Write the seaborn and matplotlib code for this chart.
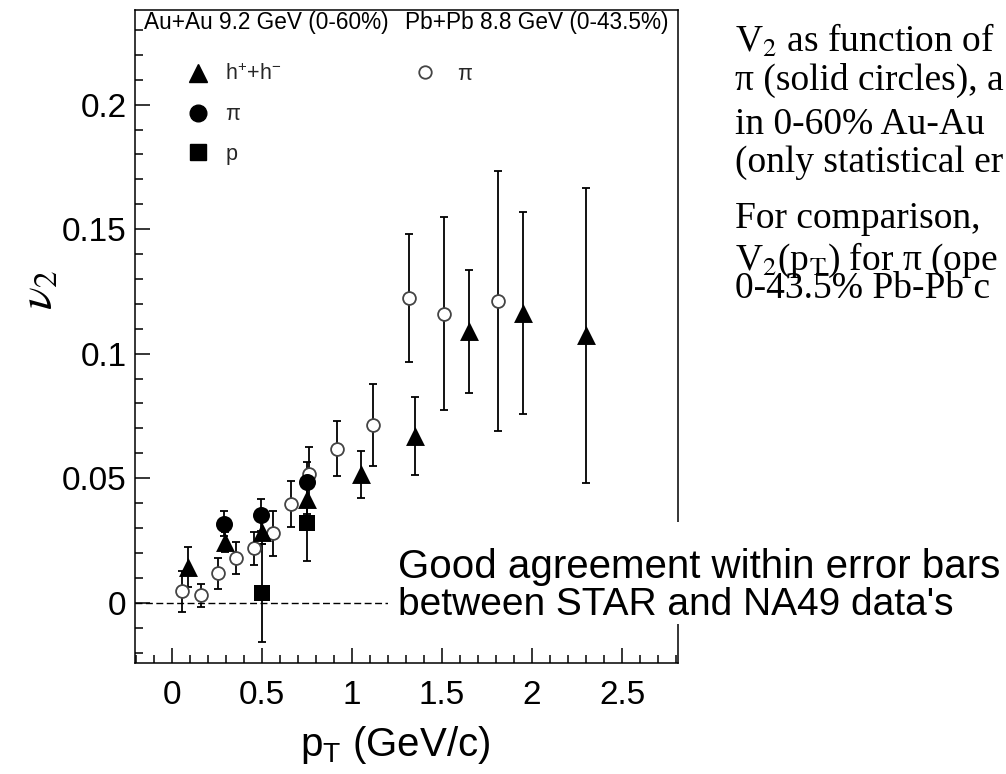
import numpy as np
import pandas as pd
import matplotlib
matplotlib.use("Agg")
import matplotlib.pyplot as plt
import seaborn as sns
from matplotlib.lines import Line2D
from matplotlib.patches import Rectangle
from matplotlib.ticker import MultipleLocator, FuncFormatter

# ---------------- data ----------------
# STAR Au+Au 9.2 GeV (0-60%) : charged hadrons h+ + h-
pt_h = [0.09, 0.295, 0.50, 0.75, 1.05, 1.35, 1.65, 1.95, 2.30]
v2_h = [0.0145, 0.0243, 0.0285, 0.0415, 0.0515, 0.0668, 0.1090, 0.1163, 0.1074]
err_h = [0.0080, 0.0040, 0.0050, 0.0060, 0.0095, 0.0157, 0.0248, 0.0405, 0.0592]

# STAR pions (solid circles)
pt_pi = [0.29, 0.495, 0.75]
v2_pi = [0.0318, 0.0352, 0.0485]
err_pi = [0.0052, 0.0065, 0.0082]

# STAR protons (solid squares)
pt_p = [0.50, 0.75]
v2_p = [0.0039, 0.0320]
err_p = [0.0195, 0.0152]

# NA49 Pb+Pb 8.8 GeV (0-43.5%) pions (open circles)
pt_na = [0.058, 0.160, 0.258, 0.357, 0.455, 0.560, 0.662, 0.760, 0.915, 1.115, 1.318, 1.508, 1.812]
v2_na = [0.0046, 0.0030, 0.0119, 0.0180, 0.0218, 0.0278, 0.0396, 0.0515, 0.0618, 0.0713, 0.1222, 0.1160, 0.1212]
err_na = [0.0082, 0.0046, 0.0062, 0.0063, 0.0068, 0.0090, 0.0093, 0.0110, 0.0110, 0.0165, 0.0257, 0.0388, 0.0521]

x_ticks = [0, 0.5, 1, 1.5, 2, 2.5]
y_ticks = [0, 0.05, 0.1, 0.15, 0.2]

header_star = "Au+Au 9.2 GeV (0-60%)"
header_na49 = "Pb+Pb 8.8 GeV (0-43.5%)"
lab_h = r"h$^{+}$+h$^{-}$"
lab_pi = "π"
lab_p = "p"

# the description on the right is cut by the picture's edge in the reference
side_lines = [
    r"V$_2$ as function of",
    "π (solid circles), a",
    "in 0-60% Au-Au",
    "(only statistical er",
    "For comparison,",
    r"V$_2$(p$_\mathrm{T}$) for π (ope",
    "0-43.5% Pb-Pb c",
]
note_lines = ["Good agreement within error bars", "between STAR and NA49 data's"]

# ---------------- style ----------------
sns.set_theme(style="white")
plt.rcParams['font.family'] = ['Liberation Sans', 'DejaVu Sans']
plt.rcParams['mathtext.fontset'] = 'custom'
plt.rcParams['mathtext.rm'] = 'Liberation Sans'
plt.rcParams['mathtext.it'] = 'Liberation Sans:italic'
plt.rcParams['mathtext.bf'] = 'Liberation Sans:bold'

W, H = 1006, 774
fig = plt.figure(figsize=(W / 100, H / 100), dpi=100)
fig.patch.set_facecolor('white')
L, R, T, B = 135, 678, 10, 663
ax = fig.add_axes([L / W, 1 - B / H, (R - L) / W, (B - T) / H])
ax.set_facecolor('white')

df_h = pd.DataFrame({"pt": pt_h, "v2": v2_h})
df_pi = pd.DataFrame({"pt": pt_pi, "v2": v2_pi})
df_p = pd.DataFrame({"pt": pt_p, "v2": v2_p})
df_na = pd.DataFrame({"pt": pt_na, "v2": v2_na})

# reference line at zero
ax.axhline(0, color='black', lw=1.0, ls=(0, (5, 2.5)), zorder=1)

ekw = dict(fmt='none', ecolor='black', elinewidth=1.3, capsize=2.6, capthick=1.3, zorder=2)
ax.errorbar(pt_na, v2_na, yerr=err_na, **ekw)
ax.errorbar(pt_h, v2_h, yerr=err_h, **ekw)
ax.errorbar(pt_pi, v2_pi, yerr=err_pi, **ekw)
ax.errorbar(pt_p, v2_p, yerr=err_p, **ekw)

sns.scatterplot(data=df_na, x="pt", y="v2", marker='o', s=85, facecolor='white',
                edgecolor='#444444', linewidth=1.3, ax=ax, zorder=3, legend=False)
sns.scatterplot(data=df_h, x="pt", y="v2", marker='^', s=185, color='black',
                edgecolor='black', linewidth=0, ax=ax, zorder=4, legend=False)
sns.scatterplot(data=df_pi, x="pt", y="v2", marker='o', s=150, color='black',
                edgecolor='black', linewidth=0, ax=ax, zorder=4, legend=False)
sns.scatterplot(data=df_p, x="pt", y="v2", marker='s', s=120, color='black',
                edgecolor='black', linewidth=0, ax=ax, zorder=4, legend=False)

# axes
ax.set_xlim(-0.205, 2.81)
ax.set_ylim(-0.0242, 0.238)
ax.set_xticks(x_ticks)
ax.set_yticks(y_ticks)
ax.xaxis.set_minor_locator(MultipleLocator(0.1))
ax.yaxis.set_minor_locator(MultipleLocator(0.01))
fmt = FuncFormatter(lambda v, p: "%g" % v)
ax.xaxis.set_major_formatter(fmt)
ax.yaxis.set_major_formatter(fmt)
ax.tick_params(which='both', direction='in', top=False, right=False,
               left=True, bottom=True, width=1.1, color='black')
ax.tick_params(which='major', length=11, labelsize=24, labelcolor='black')
ax.tick_params(axis='y', which='major', pad=6)
ax.tick_params(axis='x', which='major', pad=12)
ax.tick_params(which='minor', length=6)
for s in ax.spines.values():
    s.set_visible(True)
    s.set_color('black')
    s.set_linewidth(1.1)
ax.grid(False)

ax.set_xlabel(r"p$_\mathrm{T}$ (GeV/c)", fontsize=29, color='black', va='center')
ax.xaxis.set_label_coords((395 - L) / (R - L), (B - 745) / (B - T))
ax.set_ylabel(r"$\nu_2$", fontsize=34, color='black', math_fontfamily='stix',
              va='center', rotation=90)
ax.yaxis.set_label_coords((40 - L) / (R - L), (B - 290) / (B - T))

# headers and legends
ax.text((144 - L) / (R - L), (B - 23) / (B - T), header_star, transform=ax.transAxes,
        fontsize=16.3, ha='left', va='center', color='black')
ax.text((405 - L) / (R - L), (B - 23) / (B - T), header_na49, transform=ax.transAxes,
        fontsize=16.3, ha='left', va='center', color='black')

h1 = [Line2D([], [], ls='none', marker='^', color='black', markersize=13.5),
      Line2D([], [], ls='none', marker='o', color='black', markersize=12),
      Line2D([], [], ls='none', marker='s', color='black', markersize=11)]
leg1 = ax.legend(h1, [lab_h, lab_pi, lab_p], loc='upper left',
                 bbox_to_anchor=((181 - L) / (R - L), (B - 64) / (B - T)),
                 frameon=False, fontsize=15.5, handlelength=1.6, handletextpad=0.45,
                 labelspacing=0.87, borderpad=0, borderaxespad=0)
ax.add_artist(leg1)
h2 = [Line2D([], [], ls='none', marker='o', markerfacecolor='white',
             markeredgecolor='#444444', markeredgewidth=1.3, markersize=9)]
ax.legend(h2, [lab_pi], loc='upper left',
          bbox_to_anchor=((408 - L) / (R - L), (B - 64) / (B - T)),
          frameon=False, fontsize=15.5, handlelength=1.6, handletextpad=0.7,
          borderpad=0, borderaxespad=0)

# white box with the comment
fig.add_artist(Rectangle((388 / W, 1 - 624 / H), (W - 388) / W, (624 - 522) / H,
                         transform=fig.transFigure, facecolor='white',
                         edgecolor='none', zorder=5))
fig.text(398 / W, 1 - 567 / H, note_lines[0], fontsize=29, ha='left', va='center',
         color='black', zorder=6)
fig.text(398 / W, 1 - 605 / H, note_lines[1], fontsize=28, ha='left', va='center',
         color='black', zorder=6)

# right-hand description
baselines = [52, 90, 134, 172, 228, 270, 298]
for txt, yb in zip(side_lines, baselines):
    fig.text(735 / W, 1 - yb / H, txt, fontsize=27, family='Liberation Serif',
             math_fontfamily='stix', ha='left', va='baseline', color='black', zorder=6)

fig.savefig("out.png", dpi=100, facecolor='white')
